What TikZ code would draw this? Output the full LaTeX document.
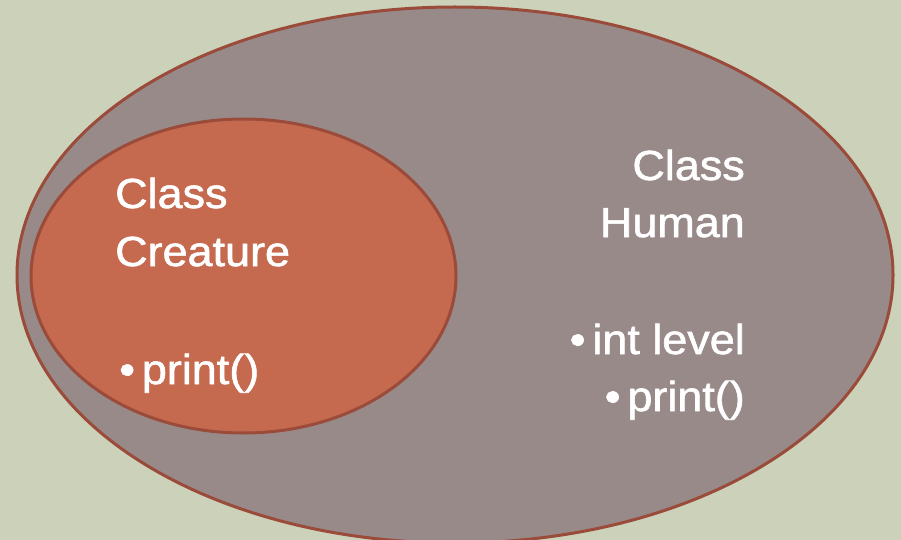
\documentclass[tikz,border=0pt]{standalone}
\usepackage{fontspec}
\setmainfont{Liberation Sans}[FakeBold=1.4,FakeStretch=1.07]
\definecolor{bgc}{HTML}{CCD1BA}
\definecolor{outerfill}{HTML}{998A8A}
\definecolor{innerfill}{HTML}{C5694F}
\definecolor{rimc}{HTML}{9A4B3A}
\tikzset{
  blob/.style={draw=rimc, line width=3pt},
  lbl/.style={text=white, inner sep=0pt, font=\fontsize{42}{50}\selectfont},
}
\begin{document}
\begin{tikzpicture}[x=1pt,y=-1pt]
\useasboundingbox (0,0) rectangle (901,540);
\fill[bgc] (0,0) rectangle (901,540);
\draw[blob, fill=outerfill] (455,275) ellipse [x radius=438, y radius=268];
\draw[blob, fill=innerfill] (243.5,276) ellipse [x radius=212.5, y radius=157];
\node[lbl, anchor=base west] (c1) at (115,208) {Class};
\node[lbl, anchor=base west] (c2) at (115,266) {Creature};
\node[lbl, anchor=base west] (c3) at (119,384) {\textbullet\hspace{7pt}print()};
\node[lbl, anchor=base east] (h1) at (745,180) {Class};
\node[lbl, anchor=base east] (h2) at (745,237) {Human};
\node[lbl, anchor=base east] (h3) at (745,354) {\textbullet\hspace{7pt}int level};
\node[lbl, anchor=base east] (h4) at (745,411) {\textbullet\hspace{7pt}print()};
\end{tikzpicture}
\end{document}
